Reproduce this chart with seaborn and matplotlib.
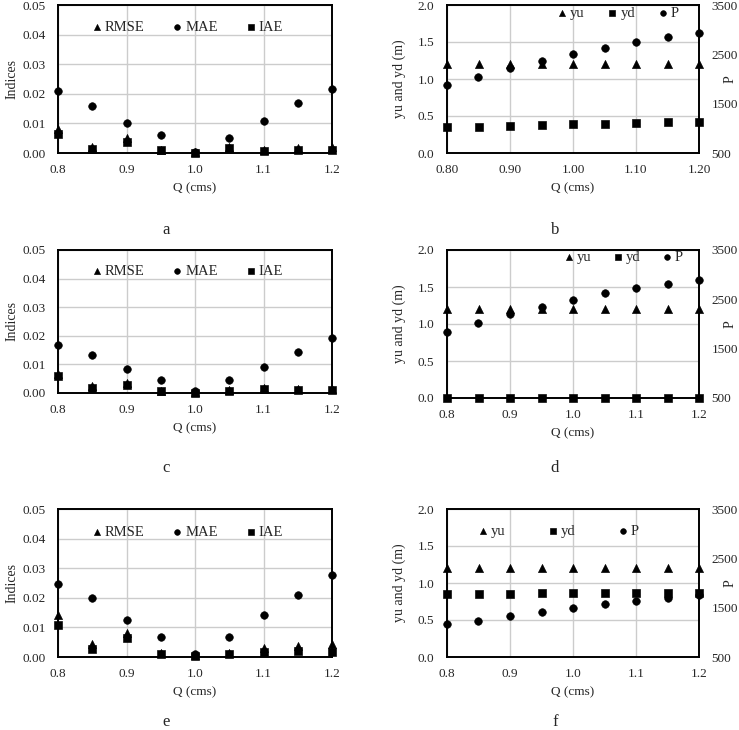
import numpy as np
import pandas as pd
import matplotlib
matplotlib.use('Agg')
import matplotlib.pyplot as plt
from matplotlib.ticker import MultipleLocator, FixedLocator, FormatStrFormatter
import seaborn as sns

# discharge values shared by all panels
q = [0.80, 0.85, 0.90, 0.95, 1.00, 1.05, 1.10, 1.15, 1.20]

# panel a
rmse_a = [0.0081, 0.0020, 0.0052, 0.0011, 0.0002, 0.0020, 0.0010, 0.0016, 0.0020]
mae_a = [0.0209, 0.0160, 0.0101, 0.0061, 0.0003, 0.0052, 0.0109, 0.0169, 0.0217]
iae_a = [0.0063, 0.0015, 0.0038, 0.0010, 0.0001, 0.0017, 0.0007, 0.0010, 0.0010]

# panel c
rmse_c = [0.0067, 0.0023, 0.0035, 0.0008, 0.0003, 0.0009, 0.0017, 0.0015, 0.0015]
mae_c = [0.0167, 0.0134, 0.0084, 0.0044, 0.0006, 0.0044, 0.0091, 0.0142, 0.0191]
iae_c = [0.0058, 0.0016, 0.0029, 0.0006, 0.0001, 0.0007, 0.0014, 0.0010, 0.0012]

# panel e
rmse_e = [0.0141, 0.0043, 0.0080, 0.0012, 0.0006, 0.0014, 0.0030, 0.0036, 0.0045]
mae_e = [0.0248, 0.0201, 0.0124, 0.0068, 0.0009, 0.0068, 0.0141, 0.0208, 0.0277]
iae_e = [0.0109, 0.0026, 0.0064, 0.0009, 0.0002, 0.0010, 0.0018, 0.0021, 0.0018]

# panel b
yu_b = [1.20, 1.20, 1.20, 1.20, 1.20, 1.20, 1.20, 1.20, 1.20]
yd_b = [0.346, 0.355, 0.370, 0.373, 0.387, 0.390, 0.404, 0.413, 0.422]
p_b = [1875, 2044, 2213, 2361, 2509, 2631, 2752, 2860, 2941]

# panel d
yu_d = [1.20, 1.20, 1.20, 1.20, 1.20, 1.20, 1.20, 1.20, 1.20]
yd_d = [0.0, 0.0, 0.0, 0.0, 0.0, 0.0, 0.0, 0.0, 0.0]
p_d = [1831, 2013, 2209, 2351, 2486, 2622, 2723, 2818, 2885]

# panel f
yu_f = [1.20, 1.20, 1.20, 1.20, 1.20, 1.20, 1.20, 1.20, 1.20]
yd_f = [0.853, 0.856, 0.858, 0.860, 0.862, 0.867, 0.867, 0.868, 0.870]
p_f = [1177, 1238, 1333, 1414, 1502, 1577, 1644, 1705, 1753]

p_ticks = [500, 1500, 2500, 3500]

W, H = 739, 730
FS = 9.5
LFS = 10.5
GRID = '#cccccc'

sns.set_theme(style='white')
plt.rcParams['font.family'] = ['Liberation Serif', 'DejaVu Serif']

fig = plt.figure(figsize=(W / 100, H / 100), dpi=100)


def make_axes(left, top, right, bottom):
    return fig.add_axes([left / W, 1 - bottom / H, (right - left) / W,
                         (bottom - top) / H])


def style_axes(ax, xfmt, xlab_y):
    ax.set_xlim(0.8, 1.2)
    ax.xaxis.set_major_locator(MultipleLocator(0.1))
    ax.xaxis.set_major_formatter(FormatStrFormatter(xfmt))
    ax.grid(True, color=GRID, linewidth=1.0)
    ax.set_axisbelow(True)
    ax.tick_params(axis='y', length=0, labelsize=FS, pad=9)
    ax.tick_params(axis='x', length=0, labelsize=FS, pad=8)
    for s in ax.spines.values():
        s.set_color('black')
        s.set_linewidth(1.4)
    ax.set_xlabel('Q (cms)', fontsize=9.5)
    ax.xaxis.set_label_coords(0.5, xlab_y)


def add_legend(ax, handles, labels, x, y, colsp):
    ax.legend(handles, labels, loc='center left', bbox_to_anchor=(x, y),
              ncol=3, frameon=False, fontsize=LFS, handletextpad=0.25,
              columnspacing=colsp, handlelength=0.6, markerscale=0.75,
              borderaxespad=0, borderpad=0)


def index_panel(box, rmse, mae, iae, letter, letter_y, leg_y):
    ax = make_axes(*box)
    sns.scatterplot(x=q, y=rmse, ax=ax, marker='^', color='black', s=34,
                    edgecolor='black', label='RMSE', clip_on=False, zorder=3)
    sns.scatterplot(x=q, y=mae, ax=ax, marker='o', color='black', s=30,
                    edgecolor='black', label='MAE', clip_on=False, zorder=3)
    sns.scatterplot(x=q, y=iae, ax=ax, marker='s', color='black', s=30,
                    edgecolor='black', label='IAE', clip_on=False, zorder=3)
    ax.set_ylim(0, 0.05)
    ax.yaxis.set_major_locator(MultipleLocator(0.01))
    ax.yaxis.set_major_formatter(FormatStrFormatter('%.2f'))
    h = box[3] - box[1]
    style_axes(ax, '%.1f', -29 / h)
    ax.set_ylabel('Indices', fontsize=10)
    ax.yaxis.set_label_coords((19 - box[0]) / (box[2] - box[0]), 0.5)
    hs, ls = ax.get_legend_handles_labels()
    add_legend(ax, hs, ls, 0.126, leg_y, 1.95)
    fig.text(166 / W, 1 - letter_y / H, letter, ha='center',
             va='center', fontsize=12)
    return ax


def depth_panel(box, yu, yd, p, letter, letter_y, xfmt, leg_x, leg_y, colsp):
    ax = make_axes(*box)
    sns.scatterplot(x=q, y=yu, ax=ax, marker='^', color='black', s=34,
                    edgecolor='black', label='yu', clip_on=False, zorder=3)
    sns.scatterplot(x=q, y=yd, ax=ax, marker='s', color='black', s=32,
                    edgecolor='black', label='yd', clip_on=False, zorder=3)
    ax.set_ylim(0, 2.0)
    ax.yaxis.set_major_locator(MultipleLocator(0.5))
    ax.yaxis.set_major_formatter(FormatStrFormatter('%.1f'))
    h = box[3] - box[1]
    style_axes(ax, xfmt, -29 / h)
    ax.set_ylabel('yu and yd (m)', fontsize=10)
    ax.yaxis.set_label_coords((406 - box[0]) / (box[2] - box[0]), 0.5)

    ax2 = ax.twinx()
    sns.scatterplot(x=q, y=p, ax=ax2, marker='o', color='black', s=30,
                    edgecolor='black', label='P', clip_on=False, zorder=3)
    ax2.set_ylim(500, 3500)
    ax2.yaxis.set_major_locator(FixedLocator(p_ticks))
    ax2.yaxis.set_major_formatter(FormatStrFormatter('%d'))
    ax2.tick_params(length=0, labelsize=FS, pad=9)
    ax2.set_ylabel('P', fontsize=10)
    ax2.yaxis.set_label_coords((724 - box[0]) / (box[2] - box[0]), 0.5)
    ax2.grid(False)
    for s in ax2.spines.values():
        s.set_visible(False)

    h1, l1 = ax.get_legend_handles_labels()
    h2, l2 = ax2.get_legend_handles_labels()
    if ax2.get_legend():
        ax2.get_legend().remove()
    add_legend(ax, h1 + h2, l1 + l2, leg_x, leg_y, colsp)
    fig.text(555 / W, 1 - letter_y / H, letter, ha='center',
             va='center', fontsize=12)
    return ax


index_panel((58, 5, 332, 153), rmse_a, mae_a, iae_a, 'a', 230, 0.85)
index_panel((58, 250, 332, 393), rmse_c, mae_c, iae_c, 'c', 468, 0.853)
index_panel((58, 509, 332, 657), rmse_e, mae_e, iae_e, 'e', 722, 0.845)

depth_panel((447, 5, 699, 153), yu_b, yd_b, p_b, 'b', 230, '%.2f',
            0.439, 0.946, 1.6)
depth_panel((447, 250, 699, 398), yu_d, yd_d, p_d, 'd', 468, '%.1f',
            0.467, 0.953, 1.5)
depth_panel((447, 509, 699, 657), yu_f, yd_f, p_f, 'f', 722, '%.1f',
            0.125, 0.851, 2.95)

fig.savefig('out.png', dpi=100)
